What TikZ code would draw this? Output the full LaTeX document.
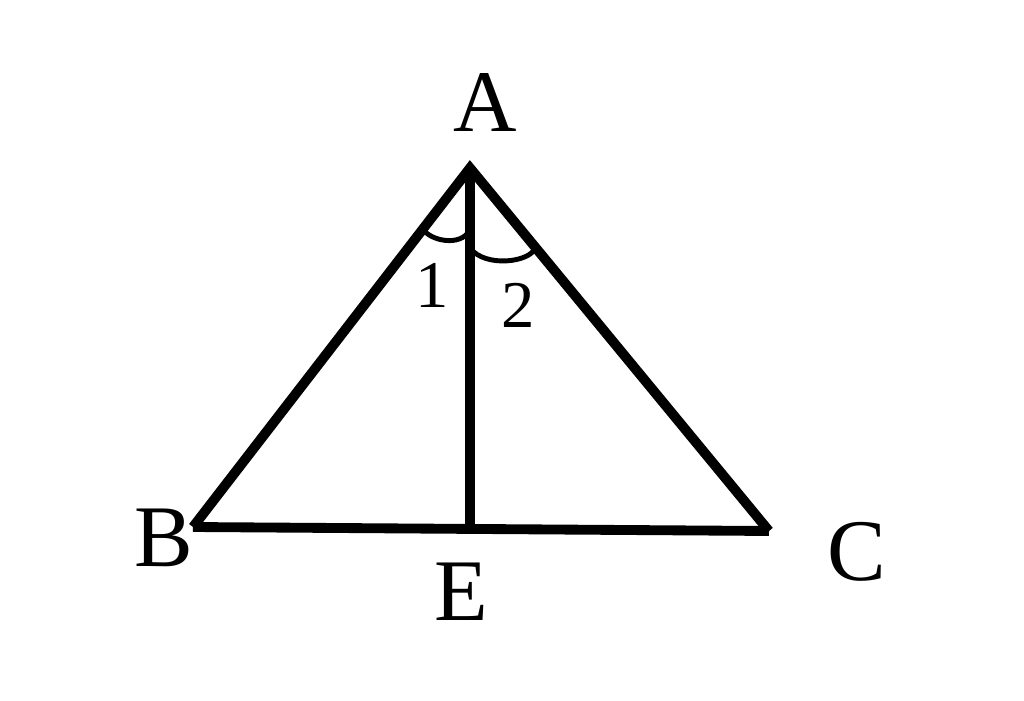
\documentclass[tikz,border=0pt]{standalone}
\usepackage{fontspec}
\setmainfont{Liberation Serif}
\usepackage{tikz}
\usetikzlibrary{calc}
\tikzset{
    side/.style = {draw, line width=5.6pt, line join=miter},
    anglemark/.style = {draw, line width=2.8pt},
    ptlabel/.style = {inner sep=0pt, font=\fontsize{50}{50}\selectfont},
    anglabel/.style = {inner sep=0pt, font=\fontsize{38}{38}\selectfont}
}

\begin{document}
\begin{tikzpicture}
            \useasboundingbox (0,0) rectangle (20.48,14.02);
            \coordinate (A) at (9.40,10.66);
            \coordinate (B) at (3.86,3.48);
            \coordinate (C) at (15.38,3.40);
            \coordinate (E) at (9.40,3.48);
            \node[ptlabel] (la) at (9.70,11.96) {A};
            \node[ptlabel] (lb) at (3.28,3.26) {B};
            \node[ptlabel] (lc) at (17.14,2.98) {C};
            \node[ptlabel] (le) at (9.22,2.18) {E};
            \node[anglabel] (l1) at (8.64,8.32) {1};
            \node[anglabel] (l2) at (10.36,7.92) {2};
            \draw[side] (B) -- (A) -- (C);
            \draw[side] (B) -- (C);
            \draw[side] (A) -- (E);
            \coordinate (a1s) at ($(A)!1.54cm!(B)$);
            \coordinate (a1e) at ($(A)!1.24cm!(E)$);
            \coordinate (a2s) at ($(A)!1.60cm!(E)$);
            \coordinate (a2e) at ($(A)!2.06cm!(C)$);
            \draw[anglemark] (a1s) .. controls +(0.12,-0.22) and +(-0.2,-0.36) .. (a1e);
            \draw[anglemark] (a2s) .. controls +(0.3,-0.4) and +(-0.1,-0.3) .. (a2e);
        \end{tikzpicture}
\end{document}
